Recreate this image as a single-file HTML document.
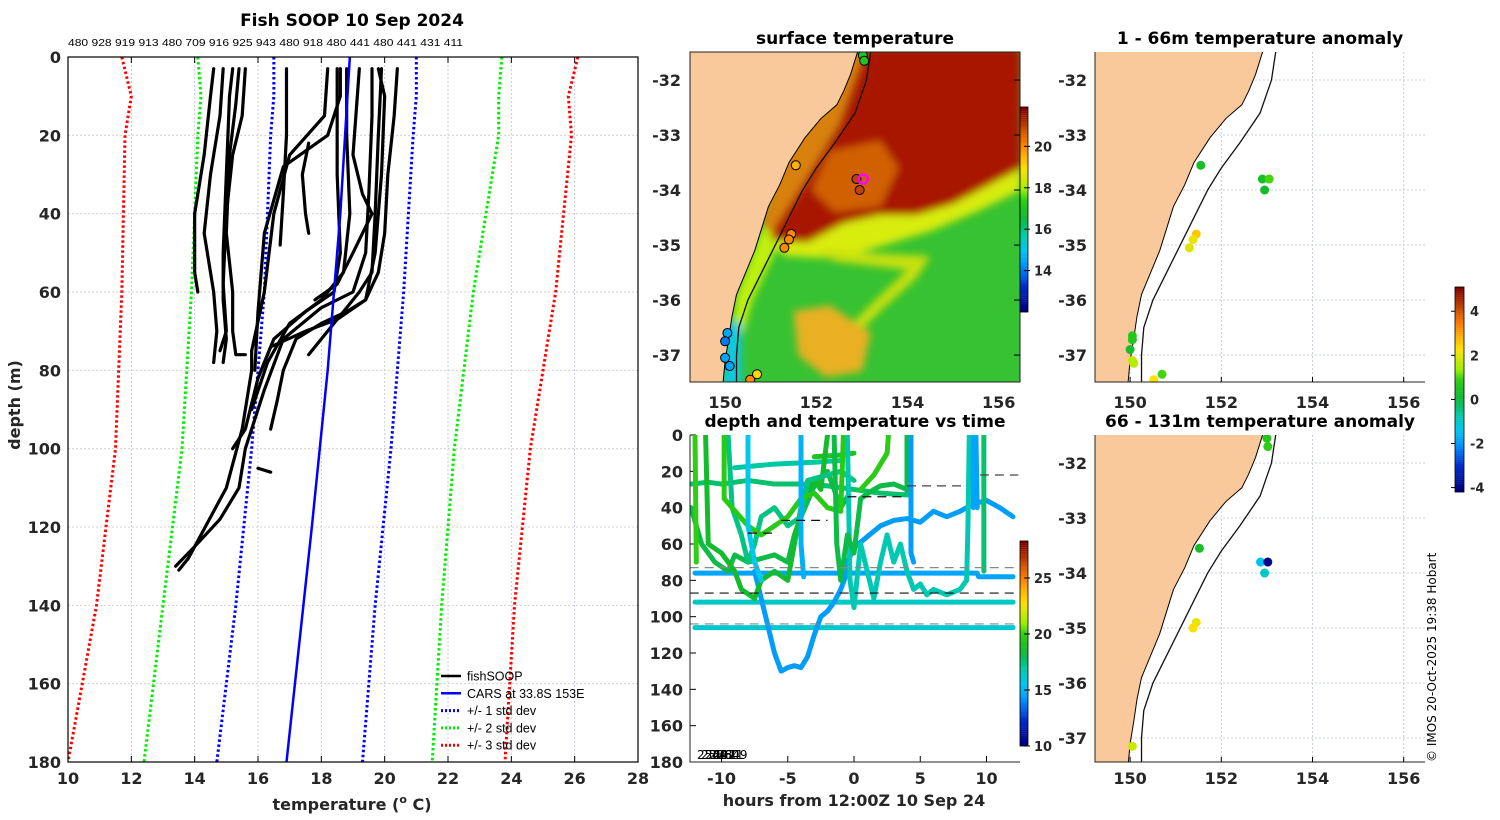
<!DOCTYPE html>
<html><head><meta charset="utf-8">
<style>
html,body{margin:0;padding:0;background:#fff;}
svg{display:block;font-family:"DejaVu Sans","Liberation Sans",sans-serif;}
.t{font-weight:bold;fill:#262626;font-size:16px;}
.tt{font-weight:bold;fill:#000;font-size:17px;}
</style></head>
<body>
<svg id="fig" width="1500" height="820" viewBox="0 0 1500 820" xmlns="http://www.w3.org/2000/svg">
<defs>
<filter id="blur" x="-10%" y="-10%" width="120%" height="120%"><feGaussianBlur stdDeviation="4"/></filter>
<clipPath id="clipMap"><rect x="690" y="52" width="330" height="330"/></clipPath>
<clipPath id="clipA1"><rect x="1095" y="52" width="330" height="330"/></clipPath>
<clipPath id="clipA2"><rect x="1095" y="435" width="330" height="327"/></clipPath>
<clipPath id="clipT"><rect x="690" y="435" width="330" height="327"/></clipPath>
<clipPath id="clipP"><rect x="68" y="57" width="570" height="705"/></clipPath>
</defs>
<text class="tt" x="352" y="26" text-anchor="middle">Fish SOOP 10 Sep 2024</text>
<text x="68" y="46" font-size="10.5" fill="#000" textLength="395" lengthAdjust="spacingAndGlyphs" font-family="Liberation Sans, sans-serif">480 928 919 913 480 709 916 925 943 480 918 480 441 480 441 431 411</text>
<text class="tt" x="855" y="44" text-anchor="middle">surface temperature</text>
<text class="tt" x="855" y="427" text-anchor="middle">depth and temperature vs time</text>
<text class="tt" x="1260" y="44" text-anchor="middle">1 - 66m temperature anomaly</text>
<text class="tt" x="1260" y="427" text-anchor="middle">66 - 131m temperature anomaly</text>
<text x="1436" y="762" font-size="12" fill="#000" transform="rotate(-90 1436 762)">© IMOS 20-Oct-2025 19:38 Hobart</text>
<g id="gP"></g><g id="gM"></g><g id="gT"></g><g id="gA"></g>
</svg>
<script>
// ---------- profile panel data ----------
const tempTicks=[10,12,14,16,18,20,22,24,26,28];
const depthTicks=[0,20,40,60,80,100,120,140,160,180];
const stdDepths=[0,10,20,60,100,140,180];
const sd3Left=[11.7,12.0,11.8,11.7,11.5,10.9,10.0];
const sd3Right=[26.1,25.8,25.9,25.4,24.6,24.1,23.8];
const sd2Left=[14.1,14.2,14.1,13.9,13.6,13.0,12.4];
const sd2Right=[23.7,23.6,23.6,22.8,22.2,21.8,21.5];
const sd1Left=[16.5,16.5,16.4,16.2,15.8,15.3,14.7];
const sd1Right=[21.0,21.0,20.9,20.6,20.2,19.7,19.3];
const carsDepths=[0,40,80,120,180];
const carsTemps=[18.9,18.6,18.2,17.7,16.9];
const profiles=[
 [[14.6,3],[14.5,10],[14.3,25],[14.0,40],[14.0,55],[14.1,60]],
 [[14.9,3],[14.8,15],[14.5,30],[14.3,45],[14.6,60],[14.7,70],[14.6,78]],
 [[15.2,3],[15.1,10],[15.0,30],[14.9,50],[14.9,62],[15.0,72],[14.9,78]],
 [[15.4,3],[15.3,12],[15.1,25],[15.0,45],[15.2,60],[15.2,70],[15.3,76],[15.6,76]],
 [[15.6,3],[15.5,15],[15.2,25],[15.0,40],[14.9,58],[15.0,70],[14.8,75]],
 [[16.9,3],[16.9,20],[16.8,35],[16.7,48]],
 [[18.2,3],[18.1,15],[17.0,25],[16.5,40],[16.2,60],[15.8,75],[15.8,80],[15.5,95],[15.0,110],[14.2,122],[13.8,128],[13.5,131]],
 [[18.6,3],[18.6,10],[18.2,20],[16.8,28],[16.2,45],[16.0,65],[15.9,80]],
 [[17.6,22],[17.4,30],[17.5,40],[17.6,45]],
 [[18.5,3],[18.5,30],[18.6,50],[18.4,60],[17.5,65],[16.5,72],[16.0,82],[15.6,95],[15.2,100]],
 [[18.8,3],[18.8,20],[18.9,40],[18.7,55],[18.0,62],[17.0,68],[16.3,78],[15.8,90]],
 [[19.6,3],[19.6,15],[19.5,35],[19.4,50],[19.0,60],[18.0,64],[16.8,72],[16.2,85],[15.6,100],[15.4,110],[14.8,118],[14.0,125],[13.4,130]],
 [[19.9,3],[19.8,20],[19.7,40],[19.6,55],[19.2,60],[18.6,66],[18.0,72],[17.6,76]],
 [[20.4,3],[20.3,15],[20.1,30],[20.0,45],[19.8,55],[19.4,62],[18.8,65],[18.0,68],[17.2,72],[16.8,80],[16.6,88],[16.4,95]],
 [[19.2,3],[19.0,25],[19.3,35],[19.6,40],[19.0,50],[18.5,58],[17.8,62]],
 [[19.8,3],[20.0,10],[19.9,30],[19.7,50],[19.4,62],[18.5,67],[17.5,70],[16.4,74],[16.0,82]],
 [[16.0,105],[16.4,106]]
];
// ---------- time panel data ----------
const hourTicks=[-10,-5,0,5,10];
const timeDepthTicks=[0,20,40,60,80,100,120,140,160,180];
const tracks=[
 {t:14.5,p:[[-12,76],[9.3,76],[9.4,78],[12,78]]},
 {t:16.2,p:[[-12,92],[12,92]]},
 {t:16.0,p:[[-12,106],[12,106]]},
 {t:14.3,p:[[-7.5,75],[-7,90],[-6.5,105],[-6,120],[-5.5,130],[-5,128],[-4.5,127],[-4,128],[-3.5,122],[-3,110],[-2.5,100],[-2,97],[-1.5,92],[-1,85],[-0.5,75],[-0.5,70],[0,62],[1,56],[2,50],[3,47],[4,46],[5,48],[6,42],[7,45],[8,42],[9,38],[10,36],[11,40],[12,45]]},
 {t:17.5,p:[[-12.3,27],[-11,26],[-10,27],[-8,25],[-6,27],[-4,27],[-2,28],[0,30],[2,32],[4,33],[4,26]]},
 {t:16.8,p:[[-9,18],[-6,16],[-3,15],[-1,14]]},
 {t:19.0,p:[[-3,12],[-1,11],[0,10]]},
 {t:18.0,p:[[-12.3,40],[-11.5,60],[-10.5,70],[-9.5,75],[-9,66],[-8,70],[-7,68],[-6,66],[-5,70],[-4.5,55],[-4,45],[-3,28],[-2,20],[-1,40],[-0.5,34]]},
 {t:18.5,p:[[-11.2,0],[-11,60],[-10,65],[-9,75],[-8.5,85],[-7.5,90],[-7,80],[-6,75],[-5,80],[-4.5,60],[-4,40],[-3.5,30],[-3,25],[-2.5,30],[-2,0]]},
 {t:17.2,p:[[-9.5,0],[-9.2,40],[-8.5,55],[-8,70],[-7.5,60],[-7,45],[-6,40],[-5,50],[-4,45],[-3.5,25],[-2,22],[-1,20],[0,25]]},
 {t:19.8,p:[[-12,0],[-11.9,70]]},
 {t:19.5,p:[[-9.8,0],[-9.8,35],[-8,50],[-7,55],[-5,45],[-4,35],[-3,32],[-2,40],[-1,42],[-0.8,0]]},
 {t:16.5,p:[[-0.5,0],[-0.3,80],[0,95],[0.5,60],[1,75],[1.5,90],[2,70],[2.5,55],[3,70],[3.5,60],[4,75],[4.5,85],[5,82],[5.5,88],[6,85],[7,88],[8,85],[8.5,80],[8.6,50],[8.7,0]]},
 {t:18.0,p:[[-1.5,0],[-1.3,60],[-1,80],[-0.5,55],[0,65],[0.5,35],[1.5,30],[2,28],[3,27],[4,30],[4,0]]},
 {t:19.6,p:[[0.5,30],[1.5,22],[2.5,10],[2.6,0]]},
 {t:15.5,p:[[-8,0],[-8,50],[-7.5,70],[-7,80]]},
 {t:14.8,p:[[-4,0],[-4,60],[-3.8,78]]},
 {t:14.3,p:[[4.3,0],[4.3,65],[4.5,70]]},
 {t:14.5,p:[[9.0,0],[9.0,40],[9.2,0],[9.3,40]]},
 {t:17.5,p:[[9.8,0],[9.8,75]]}
];
const dashLines=[[-12.4,12.4,73,'#888'],[-12.4,12.4,87,'#111'],[-12.4,12.4,104,'#888'],[-8,-6,54,'#111'],[-5.5,-2,47,'#111'],[-0.5,4,34,'#111'],[4,8.5,28,'#444'],[9.5,12.4,22,'#444']];
// ---------- map data ----------
const lonTicks=[150,152,154,156];
const latTicks=[-32,-33,-34,-35,-36,-37];
const coast=[[152.92,-31.45],[152.75,-31.9],[152.6,-32.2],[152.45,-32.45],[152.1,-32.7],[151.75,-33.05],[151.4,-33.5],[151.2,-33.9],[150.95,-34.3],[150.8,-34.7],[150.65,-35.1],[150.45,-35.5],[150.25,-35.9],[150.15,-36.3],[150.08,-36.7],[150.0,-37.1],[149.95,-37.55]];
const isobath=[[153.2,-31.45],[153.1,-32.0],[152.85,-32.6],[152.4,-33.15],[152.0,-33.6],[151.7,-34.0],[151.4,-34.5],[151.1,-35.0],[150.8,-35.5],[150.5,-36.0],[150.3,-36.5],[150.25,-37.0],[150.25,-37.55]];
const sstRed=[[151.0,-34.9],[151.8,-34.95],[152.6,-34.6],[153.4,-34.45],[154.2,-34.45],[155.0,-34.25],[155.8,-33.9],[156.5,-33.6],[156.5,-31.4],[153.0,-31.4],[152.7,-32.3],[152.0,-33.0],[151.4,-33.8]];
const sstOrangeBlob=[[152.3,-33.3],[153.4,-33.1],[153.8,-33.6],[153.4,-34.3],[152.4,-34.4],[151.9,-34.0]];
const sstYellowBand=[[151.0,-34.9],[151.8,-34.95],[152.6,-34.6],[153.4,-34.45],[154.2,-34.45],[155.0,-34.25],[155.8,-33.9],[156.5,-33.6],[156.5,-34.0],[155.5,-34.4],[154.5,-34.75],[153.5,-35.0],[152.5,-35.25],[151.3,-35.2]];
const sstSouthBlob=[[151.5,-36.2],[152.3,-36.1],[153.2,-36.6],[153.0,-37.3],[152.2,-37.4],[151.6,-37.0]];
const sstFilament=[[152.0,-35.1],[154.5,-35.2],[154.2,-35.6],[153.4,-36.2],[152.8,-36.7],[152.7,-36.5],[153.3,-36.0],[154.0,-35.45],[152.4,-35.3]];
const sstCoastStrip=[[150.8,-34.7],[151.4,-34.6],[151.0,-35.3],[150.6,-36.0],[150.4,-36.6],[150.15,-36.6],[150.25,-35.9],[150.45,-35.5]];
const sstCyan=[[150.0,-36.4],[150.35,-36.4],[150.35,-37.55],[149.95,-37.55]];
const sstPts=[[153.02,-31.55,17],[153.05,-31.65,17],[151.55,-33.55,19.5],[152.88,-33.8,21],[152.95,-34.0,21],[151.45,-34.8,20],[151.4,-34.9,20],[151.3,-35.05,20],[150.05,-36.6,14.5],[150.0,-36.75,14],[150.0,-37.05,14.5],[150.1,-37.2,14.5],[150.7,-37.35,19],[150.55,-37.45,20]];
const anom1=[[151.55,-33.55,0.3],[152.9,-33.8,0.3],[153.05,-33.8,1.0],[152.95,-34.0,0.2],[151.45,-34.8,2.6],[151.38,-34.9,2.1],[151.3,-35.05,2.0],[150.05,-36.65,0.6],[150.05,-36.72,0.6],[150.0,-36.9,0.3],[150.05,-37.1,1.7],[150.08,-37.15,1.6],[150.7,-37.35,1.0],[150.52,-37.45,2.3]];
const anom2=[[153.0,-31.55,0.6],[153.02,-31.7,0.8],[151.52,-33.55,0.3],[152.86,-33.8,-1.5],[153.02,-33.8,-4.0],[152.95,-34.0,-1.0],[151.45,-34.9,2.1],[151.38,-35.0,2.3],[150.05,-37.15,1.8]];
const cbTempTicks=[10,15,20,25];
const cbSstTicks=[14,16,18,20];
const cbAnomTicks=[-4,-2,0,2,4];

const NS='http://www.w3.org/2000/svg';
function mk(tag,attrs,parent){const e=document.createElementNS(NS,tag);for(const k in attrs)e.setAttribute(k,attrs[k]);parent.appendChild(e);return e;}
const stops=[[0,[0,0,127]],[0.13,[0,48,208]],[0.22,[0,144,255]],[0.3,[0,200,240]],[0.38,[0,200,160]],[0.46,[16,184,48]],[0.55,[48,208,16]],[0.6,[160,240,0]],[0.7,[255,224,0]],[0.82,[255,128,0]],[1,[128,0,0]]];
function cmap(f){f=Math.max(0,Math.min(1,f));for(let i=1;i<stops.length;i++){if(f<=stops[i][0]){const a=stops[i-1],b=stops[i];const u=(f-a[0])/(b[0]-a[0]);const c=a[1].map((v,j)=>Math.round(v+(b[1][j]-v)*u));return `rgb(${c[0]},${c[1]},${c[2]})`;}}return 'rgb(128,0,0)';}

// ===== Profile panel =====
const gP=document.getElementById('gP');
const px=t=>68+(t-10)*570/18, py=d=>57+d*705/180;
tempTicks.forEach((t,i)=>{
 if(i>0&&i<tempTicks.length-1){const g=mk('line',{x1:px(t),x2:px(t),y1:57,y2:762,stroke:'#c8cce0','stroke-dasharray':'2,2'},gP);
  mk('line',{x1:px(t),x2:px(t),y1:57,y2:63,stroke:'#000'},gP);mk('line',{x1:px(t),x2:px(t),y1:756,y2:762,stroke:'#000'},gP);}
 const l=mk('text',{x:px(t),y:784,'text-anchor':'middle',class:'t'},gP);l.textContent=t;
 
});
depthTicks.forEach((d,i)=>{
 if(i>0&&i<depthTicks.length-1){const g=mk('line',{x1:68,x2:638,y1:py(d),y2:py(d),stroke:'#d8d0c8','stroke-dasharray':'2,2'},gP);}
 const l=mk('text',{x:61,y:py(d)+6,'text-anchor':'end',class:'t'},gP);l.textContent=d;
 
});
const gPc=mk('g',{'clip-path':'url(#clipP)'},gP);
function dotted(arr,col,nm){const p=mk('polyline',{points:stdDepths.map((d,i)=>px(arr[i])+','+py(d)).join(' '),fill:'none',stroke:col,'stroke-width':3,'stroke-dasharray':'2.5,2.5'},gPc);}
dotted(sd3Left,'#ff0000','std3-left');dotted(sd3Right,'#ff0000','std3-right');
dotted(sd2Left,'#00ee00','std2-left');dotted(sd2Right,'#00ee00','std2-right');
dotted(sd1Left,'#0000ff','std1-left');dotted(sd1Right,'#0000ff','std1-right');
profiles.forEach(pr=>{const p=mk('polyline',{points:pr.map(q=>px(q[0])+','+py(q[1])).join(' '),fill:'none',stroke:'#000','stroke-width':3.2,'stroke-linejoin':'round','stroke-linecap':'round'},gPc);});
{const p=mk('polyline',{points:carsDepths.map((d,i)=>px(carsTemps[i])+','+py(d)).join(' '),fill:'none',stroke:'#0000ff','stroke-width':2.5},gPc);}
{const r=mk('rect',{x:68,y:57,width:570,height:705,fill:'none',stroke:'#000','stroke-width':1.2},gP);}
{const t=mk('text',{x:352,y:810,'text-anchor':'middle',class:'t'},gP);t.innerHTML='temperature (<tspan dy="-7" font-size="11">o</tspan><tspan dy="7"> C)</tspan>';}
{const t=mk('text',{x:20,y:405,'text-anchor':'middle',class:'t',transform:'rotate(-90 20 405)'},gP);t.textContent='depth (m)';}
const legItems=[['fishSOOP','#000',''],['CARS at 33.8S 153E','#0000ff',''],['+/- 1 std dev','#0000ff','2,2'],['+/- 2 std dev','#00ee00','2,2'],['+/- 3 std dev','#ff0000','2,2']];
legItems.forEach((it,i)=>{const y=676+i*17.3;const g=mk('g',{},gP);
 mk('line',{x1:441,x2:461,y1:y,y2:y,stroke:it[1],'stroke-width':it[2]?3:2.5,'stroke-dasharray':it[2]||'none'},g);
 const t=mk('text',{x:467,y:y+4.5,'font-size':12.5,fill:'#000','font-family':'Liberation Sans, sans-serif'},g);t.textContent=it[0];});

const lon0=149.23,lonPx=45.6,lat0=-31.49,latPx=55;
// ===== SST map =====
const gM=document.getElementById('gM');
{
 const lx=lo=>690+(lo-lon0)*lonPx, ly=la=>52+(lat0-la)*latPx;
 const poly=a=>a.map(q=>lx(q[0])+','+ly(q[1])).join(' ');
 const gc=mk('g',{'clip-path':'url(#clipMap)'},gM);
 mk('rect',{x:690,y:52,width:330,height:330,fill:'#36c232'},gc);
 const gb=mk('g',{filter:'url(#blur)'},gc);
 mk('polygon',{points:poly(sstYellowBand),fill:'#d8ec10'},gb);
 mk('polygon',{points:poly(sstFilament),fill:'#c8e010'},gb);
 mk('polygon',{points:poly(sstSouthBlob),fill:'#e8b020'},gb);
 mk('polygon',{points:poly(sstCoastStrip),fill:'#c0f010'},gb);
 mk('polygon',{points:poly(sstRed),fill:'#a81400'},gb);
 mk('polygon',{points:poly(sstOrangeBlob),fill:'#d06000'},gb);
 mk('polygon',{points:poly([[151.0,-34.8],[151.7,-33.9],[152.5,-32.8],[153.1,-31.4],[152.5,-31.4],[152.0,-32.6],[151.2,-33.4],[150.8,-34.6]]),fill:'#d88010'},gb);
 mk('polygon',{points:poly(sstCyan),fill:'#10c8e0'},gb);
 const land=coast.concat([[149.0,-37.6],[149.0,-31.4]]);
 mk('polygon',{points:poly(land),fill:'#f9c89b',stroke:'#000','stroke-width':1},gc);
 mk('polyline',{points:poly(isobath),fill:'none',stroke:'#111','stroke-width':1.3},gc);
 sstPts.forEach(q=>{const c=mk('circle',{cx:lx(q[0]),cy:ly(q[1]),r:4.5,fill:cmap((q[2]-12)/9.9),stroke:'#000','stroke-width':1},gc);});
 mk('circle',{cx:lx(153.03),cy:ly(-33.8),r:4.5,fill:'none',stroke:'#ff00ff','stroke-width':2.5},gc);
 mk('rect',{x:690,y:52,width:330,height:330,fill:'none',stroke:'#222','stroke-width':1},gM);
 lonTicks.forEach(lo=>{const t=mk('text',{x:lx(lo),y:408,'text-anchor':'middle',class:'t'},gM);t.textContent=lo;});
 latTicks.forEach(la=>{const t=mk('text',{x:681,y:ly(la)+6,'text-anchor':'end',class:'t'},gM);t.textContent=la;
  mk('line',{x1:1014,x2:1020,y1:ly(la),y2:ly(la),stroke:'#000'},gM);});
 const cb=mk('g',{},gM);
 for(let i=0;i<100;i++){mk('rect',{x:1020,y:107+i*2.05,width:8,height:2.2,fill:cmap(1-i/99)},cb);}
 mk('rect',{x:1020,y:107,width:8,height:205,fill:'none',stroke:'#000','stroke-width':0.8},cb);
 cbSstTicks.forEach(v=>{const y=312-(v-12)*205/9.9;mk('line',{x1:1024,x2:1030,y1:y,y2:y,stroke:'#000'},cb);const t=mk('text',{x:1034,y:y+5,'font-size':13,'font-weight':'bold',fill:'#262626'},cb);t.textContent=v;});
}
// ===== Time panel =====
const gT=document.getElementById('gT');
{
 const hx=h=>854+h*13.25, dy=d=>435+d*327/180;
 hourTicks.forEach(h=>{mk('line',{x1:hx(h),x2:hx(h),y1:756,y2:762,stroke:'#000'},gT);const t=mk('text',{x:hx(h),y:784,'text-anchor':'middle',class:'t'},gT);t.textContent=h;});
 timeDepthTicks.forEach(d=>{mk('line',{x1:690,x2:696,y1:dy(d),y2:dy(d),stroke:'#000'},gT);const t=mk('text',{x:683,y:dy(d)+6,'text-anchor':'end',class:'t'},gT);t.textContent=d;});
 const gc=mk('g',{'clip-path':'url(#clipT)'},gT);
 tracks.forEach(tr=>{const p=mk('polyline',{points:tr.p.map(q=>hx(q[0])+','+dy(q[1])).join(' '),fill:'none',stroke:cmap((tr.t-10)/18),'stroke-width':5,'stroke-linejoin':'round','stroke-linecap':'round'},gc);});
 dashLines.forEach(dl=>{const l=mk('line',{x1:hx(dl[0]),x2:hx(dl[1]),y1:dy(dl[2]),y2:dy(dl[2]),stroke:dl[3],'stroke-width':1.2,'stroke-dasharray':'9,6'},gc);});
 const ids=['2549','2586','2647','2760','2811','2849'];
 ids.forEach((s,i)=>{const t=mk('text',{x:697+i*4,y:759,'font-size':12,fill:'#000'},gT);t.textContent=s;});
 mk('polyline',{points:'690,435 690,762 1020,762',fill:'none',stroke:'#222','stroke-width':1},gT);
 {const t=mk('text',{x:854,y:806,'text-anchor':'middle',class:'t'},gT);t.textContent='hours from 12:00Z 10 Sep 24';}
 const cb=mk('g',{},gT);
 for(let i=0;i<100;i++){mk('rect',{x:1020,y:541+i*2.05,width:8,height:2.2,fill:cmap(1-i/99)},cb);}
 mk('rect',{x:1020,y:541,width:8,height:205,fill:'none',stroke:'#000','stroke-width':0.8},cb);
 cbTempTicks.forEach(v=>{const y=746-(v-10)*205/18.3;mk('line',{x1:1024,x2:1030,y1:y,y2:y,stroke:'#000'},cb);const t=mk('text',{x:1034,y:y+5,'font-size':13,'font-weight':'bold',fill:'#262626'},cb);t.textContent=v;});
}
// ===== Anomaly maps =====
const gA=document.getElementById('gA');
function anomPanel(yTop,h,clip,pts,nm,labY){
 const lx=lo=>1095+(lo-lon0)*lonPx, ly=la=>yTop+(lat0-la)*latPx;
 const poly=a=>a.map(q=>lx(q[0])+','+ly(q[1])).join(' ');
 const g=mk('g',{},gA);
 const gc=mk('g',{'clip-path':`url(#${clip})`},g);
 lonTicks.forEach(lo=>mk('line',{x1:lx(lo),x2:lx(lo),y1:yTop,y2:yTop+h,stroke:'#c8cce0','stroke-dasharray':'2,2'},gc));
 latTicks.forEach(la=>mk('line',{x1:1095,x2:1425,y1:ly(la),y2:ly(la),stroke:'#c8cce0','stroke-dasharray':'2,2'},gc));
 mk('polygon',{points:poly(coast.concat([[149.0,-37.6],[149.0,-31.4]])),fill:'#f9c89b',stroke:'#000','stroke-width':1},gc);
 mk('polyline',{points:poly(isobath),fill:'none',stroke:'#111','stroke-width':1.3},gc);
 pts.forEach(q=>{const c=mk('circle',{cx:lx(q[0]),cy:ly(q[1]),r:4.5,fill:cmap((q[2]+4.2)/9.3)},gc);});
 mk('polyline',{points:`1095,${yTop} 1095,${yTop+h} 1425,${yTop+h}`,fill:'none',stroke:'#222','stroke-width':1},g);
 lonTicks.forEach(lo=>{mk('line',{x1:lx(lo),x2:lx(lo),y1:yTop+h-5,y2:yTop+h,stroke:'#000'},g);const t=mk('text',{x:lx(lo),y:labY,'text-anchor':'middle',class:'t'},g);t.textContent=lo;});
 latTicks.forEach(la=>{const t=mk('text',{x:1087,y:ly(la)+6,'text-anchor':'end',class:'t'},g);t.textContent=la;});
}
anomPanel(52,330,'clipA1',anom1,'anomaly-map-shallow',408);
anomPanel(435,327,'clipA2',anom2,'anomaly-map-deep',784);
{
 const cb=mk('g',{},gA);
 for(let i=0;i<100;i++){mk('rect',{x:1455,y:287+i*2.05,width:9,height:2.2,fill:cmap(1-i/99)},cb);}
 mk('rect',{x:1455,y:287,width:9,height:205,fill:'none',stroke:'#000','stroke-width':0.8},cb);
 cbAnomTicks.forEach(v=>{const y=492-(v+4.2)*205/9.3;mk('line',{x1:1451,x2:1455,y1:y,y2:y,stroke:'#000'},cb);const t=mk('text',{x:1470,y:y+5,'font-size':13,'font-weight':'bold',fill:'#262626'},cb);t.textContent=v;});
}
</script>
</body></html>
